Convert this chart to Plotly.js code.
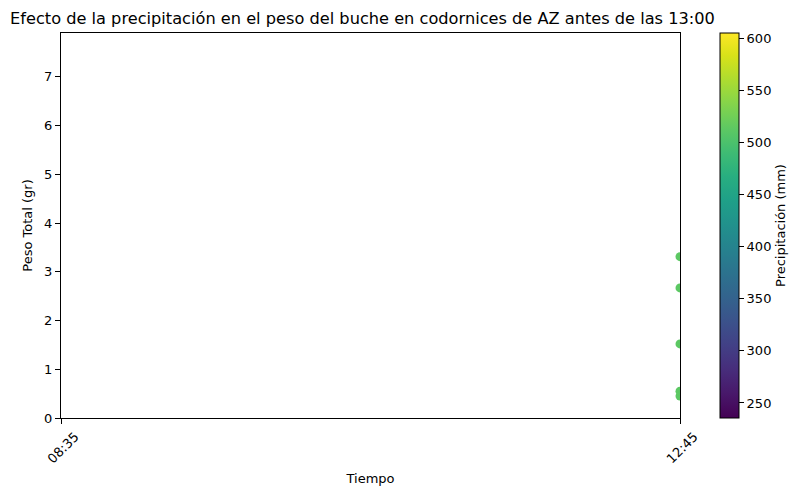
<!DOCTYPE html>
<html>
<head>
<meta charset="utf-8">
<script src="https://cdn.plot.ly/plotly-3.0.1.min.js"></script>
<style>body{margin:0;padding:0;background:#fff;}</style>
</head>
<body>
<div id="chart" style="width:805px;height:495px;"></div>
<script>
const categories = ["08:35", "12:45"];
const times = ["12:45", "12:45", "12:45", "12:45", "12:45"];
const pesoTotal = [3.31, 2.67, 1.52, 0.55, 0.45];
const precipitacion = [512, 512, 512, 512, 512];
const cRange = [235.6, 604.8];

const trace = {
  type: "scatter",
  mode: "markers",
  x: times,
  y: pesoTotal,
  cliponaxis: true,
  marker: {
    size: 9,
    color: precipitacion,
    colorscale: "Viridis",
    cmin: cRange[0],
    cmax: cRange[1],
    showscale: true,
    line: {width: 0},
    colorbar: {
      x: 1.0646, xanchor: "left", xref: "paper",
      y: 0.5, yanchor: "middle",
      len: 1, lenmode: "fraction",
      thickness: 19, thicknessmode: "pixels",
      outlinewidth: 1, outlinecolor: "#000",
      ticks: "outside", ticklen: 5, tickcolor: "#000",
      tickvals: [250, 300, 350, 400, 450, 500, 550, 600],
      tickfont: {family: "DejaVu Sans", size: 13, color: "#000"},
      title: {text: "Precipitación (mm)", side: "right", font: {family: "DejaVu Sans", size: 13, color: "#000"}},
      xpad: 0, ypad: 0
    }
  },
  hoverinfo: "x+y"
};

const layout = {
  width: 805, height: 495,
  margin: {l: 61, r: 125, t: 33, b: 77},
  paper_bgcolor: "#fff", plot_bgcolor: "#fff",
  showlegend: false,
  title: {
    text: "Efecto de la precipitación en el peso del buche en codornices de AZ antes de las 13:00",
    font: {family: "DejaVu Sans", size: 16.2, color: "#000"},
    x: 10 / 805, xanchor: "left", xref: "container",
    y: 1 - 18 / 495, yanchor: "middle", yref: "container"
  },
  xaxis: {
    type: "category",
    categoryorder: "array",
    categoryarray: categories,
    tickvals: categories,
    range: [0, 1],
    showgrid: false, zeroline: false,
    showline: true, mirror: true, linecolor: "#000", linewidth: 1,
    ticks: "outside", ticklen: 5, tickcolor: "#000",
    tickangle: -45,
    ticklabelshift: 14,
    tickfont: {family: "DejaVu Sans", size: 13, color: "#000"},
    title: {text: "Tiempo", font: {family: "DejaVu Sans", size: 13, color: "#000"}, standoff: 8}
  },
  yaxis: {
    range: [0, 7.9],
    dtick: 1, tick0: 0,
    showgrid: false, zeroline: false,
    showline: true, mirror: true, linecolor: "#000", linewidth: 1,
    ticks: "outside", ticklen: 5, tickcolor: "#000",
    tickfont: {family: "DejaVu Sans", size: 13, color: "#000"},
    title: {text: "Peso Total (gr)", font: {family: "DejaVu Sans", size: 13, color: "#000"}, standoff: 8}
  }
};

Plotly.newPlot("chart", [trace], layout, {displayModeBar: false, staticPlot: true});
</script>
</body>
</html>
